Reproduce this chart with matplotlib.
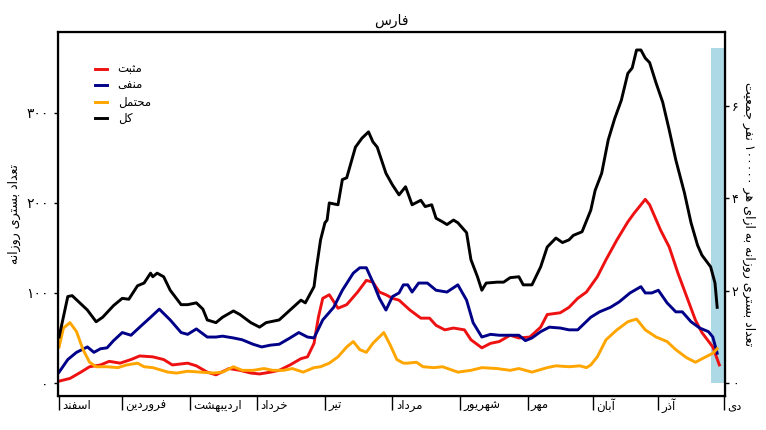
import re
import numpy as np
import matplotlib
matplotlib.use("Agg")
import matplotlib.pyplot as plt

# ---- data ----
# day index counted from 1 Esfand
total_days = [0, 4, 6, 13, 17, 20, 25, 29, 32, 36, 39, 42, 43, 45, 48, 51, 56, 59, 63, 66, 68, 72, 75, 80, 83,
              88, 92, 95, 101, 106, 111, 113, 117, 118, 120, 122, 123, 124, 128, 130, 132, 136, 139, 142, 144,
              146, 150, 153, 156, 159, 162, 166, 168, 171, 173, 176, 178, 181, 183, 187, 189, 192, 194, 196,
              201, 204, 207, 211, 213, 217, 221, 224, 228, 231, 234, 236, 240, 244, 246, 249, 252, 255, 258,
              261, 263, 265, 267, 269, 271, 274, 277, 280, 283, 287, 290, 293, 295, 299, 301, 302]
total_vals = [51, 96, 97, 81, 68, 73, 86, 94, 93, 108, 111, 122, 118, 122, 118, 103, 87, 87, 89, 82, 70, 67, 73,
              80, 76, 67, 62, 67, 70, 81, 92, 89, 107, 126, 159, 178, 181, 200, 198, 226, 228, 262, 272, 279,
              268, 262, 233, 220, 209, 218, 198, 203, 196, 198, 183, 179, 176, 181, 178, 167, 137, 118, 103,
              111, 112, 112, 117, 118, 109, 109, 129, 151, 161, 156, 159, 164, 168, 192, 214, 233, 270, 294,
              314, 344, 350, 370, 370, 361, 356, 333, 312, 281, 248, 211, 178, 153, 142, 129, 111, 84]

pos_days = [0, 5, 10, 14, 19, 23, 28, 33, 37, 43, 48, 52, 59, 63, 68, 72, 78, 83, 88, 92, 97, 101, 106, 111,
            114, 117, 119, 121, 124, 128, 132, 137, 141, 144, 147, 150, 153, 156, 161, 166, 170, 173, 177, 181,
            186, 189, 194, 198, 202, 207, 211, 216, 221, 224, 230, 234, 238, 242, 247, 251, 256, 261, 264, 269,
            271, 276, 280, 284, 288, 292, 295, 300, 303]
pos_vals = [2, 5, 12, 18, 20, 24, 22, 26, 30, 29, 26, 20, 22, 19, 12, 9, 16, 14, 11, 10, 12, 14, 20, 27,
            29, 44, 73, 94, 98, 83, 87, 101, 114, 112, 101, 98, 94, 92, 81, 72, 72, 64, 59, 61,
            59, 48, 39, 44, 46, 53, 50, 51, 62, 76, 78, 84, 94, 101, 118, 137, 159, 179, 189, 204,
            198, 170, 151, 122, 96, 70, 56, 40, 20]

neg_days = [0, 4, 8, 13, 16, 19, 22, 25, 29, 33, 37, 42, 46, 51, 56, 59, 63, 68, 72, 75, 80, 84, 89, 93, 97,
            101, 106, 110, 114, 117, 121, 126, 130, 135, 138, 141, 144, 147, 150, 153, 156, 158, 160, 162,
            165, 169, 173, 178, 183, 187, 190, 194, 198, 202, 207, 211, 214, 217, 221, 225, 230, 234, 238,
            244, 248, 253, 257, 262, 267, 269, 272, 275, 279, 283, 286, 290, 294, 298, 300, 302]
neg_vals = [12, 26, 34, 40, 34, 38, 39, 47, 56, 53, 62, 73, 82, 70, 56, 54, 60, 51, 51, 52, 50, 48, 43, 40, 42,
            43, 50, 56, 51, 50, 70, 84, 103, 122, 128, 128, 112, 94, 81, 96, 100, 109, 109, 101,
            111, 111, 103, 101, 109, 92, 67, 51, 54, 53, 53, 53, 47, 50, 57, 62, 61, 59, 59,
            73, 79, 84, 90, 100, 107, 100, 100, 103, 89, 79, 79, 68, 61, 57, 51, 33]

prob_days = [0, 2, 5, 8, 11, 14, 17, 22, 27, 31, 36, 39, 43, 50, 54, 59, 65, 71, 75, 80, 84, 89, 94, 98, 103,
             107, 112, 117, 120, 124, 128, 132, 135, 138, 141, 144, 149, 152, 155, 158, 160, 164, 167, 172,
             176, 183, 189, 194, 201, 207, 211, 217, 224, 228, 234, 239, 242, 244, 247, 251, 256, 261, 265,
             269, 274, 279, 283, 288, 292, 296, 300, 302]
prob_vals = [40, 61, 67, 57, 37, 23, 18, 18, 17, 20, 22, 18, 17, 12, 11, 13, 12, 11, 12, 18, 14, 14, 16, 14, 14,
             16, 12, 17, 18, 22, 29, 40, 46, 37, 34, 44, 56, 42, 26, 22, 22, 23, 18, 17,
             18, 12, 14, 17, 16, 14, 16, 12, 17, 19, 18, 19, 17, 20, 29, 48, 59, 68, 71,
             59, 51, 46, 37, 28, 23, 28, 33, 38]

month_days = [0, 29, 60, 91, 122, 153, 184, 215, 245, 275, 305]
month_names = ["اسفند", "فروردین", "اردیبهشت", "خرداد", "تیر", "مرداد", "شهریور", "مهر", "آبان", "آذر", "دی"]
series_names = ["مثبت", "منفی", "محتمل", "کل"]
left_ticks = [0, 100, 200, 300]
right_ticks = [0, 2, 4, 6]
population = 5130000
highlight_start = 299

# ---- simple arabic/persian shaping (matplotlib has no shaping) ----
FORMS = {
    'ا': ('\uFE8D', '\uFE8E'), 'آ': ('\uFE81', '\uFE82'),
    'د': ('\uFEA9', '\uFEAA'), 'ذ': ('\uFEAB', '\uFEAC'),
    'ر': ('\uFEAD', '\uFEAE'), 'ز': ('\uFEAF', '\uFEB0'),
    'و': ('\uFEED', '\uFEEE'),
    'ب': ('\uFE8F', '\uFE90', '\uFE91', '\uFE92'), 'ت': ('\uFE95', '\uFE96', '\uFE97', '\uFE98'),
    'ث': ('\uFE99', '\uFE9A', '\uFE9B', '\uFE9C'), 'ج': ('\uFE9D', '\uFE9E', '\uFE9F', '\uFEA0'),
    'ح': ('\uFEA1', '\uFEA2', '\uFEA3', '\uFEA4'), 'خ': ('\uFEA5', '\uFEA6', '\uFEA7', '\uFEA8'),
    'س': ('\uFEB1', '\uFEB2', '\uFEB3', '\uFEB4'), 'ش': ('\uFEB5', '\uFEB6', '\uFEB7', '\uFEB8'),
    'ع': ('\uFEC9', '\uFECA', '\uFECB', '\uFECC'), 'ف': ('\uFED1', '\uFED2', '\uFED3', '\uFED4'),
    'ل': ('\uFEDD', '\uFEDE', '\uFEDF', '\uFEE0'), 'م': ('\uFEE1', '\uFEE2', '\uFEE3', '\uFEE4'),
    'ن': ('\uFEE5', '\uFEE6', '\uFEE7', '\uFEE8'), 'ه': ('\uFEE9', '\uFEEA', '\uFEEB', '\uFEEC'),
    'ی': ('\uFBFC', '\uFBFD', '\uFBFE', '\uFBFF'), 'ک': ('\uFB8E', '\uFB8F', '\uFB90', '\uFB91'),
}
FA_DIGITS = str.maketrans("0123456789", "۰۱۲۳۴۵۶۷۸۹")


def shape(text):
    """join letters and put them in visual (left to right) order"""
    out = []
    for i, c in enumerate(text):
        if c not in FORMS:
            out.append(c)
            continue
        f = FORMS[c]
        prev = text[i - 1] if i > 0 else None
        nxt = text[i + 1] if i + 1 < len(text) else None
        join_prev = prev in FORMS and len(FORMS[prev]) == 4
        join_next = len(f) == 4 and nxt in FORMS
        if join_prev and join_next:
            out.append(f[3])
        elif join_prev:
            out.append(f[1])
        elif join_next:
            out.append(f[2])
        else:
            out.append(f[0])
    runs = re.findall(r'[۰-۹0-9]+|[^۰-۹0-9]', ''.join(out))
    return ''.join(reversed(runs))


def fa(n):
    return str(n).translate(FA_DIGITS)


plt.rcParams['font.family'] = ['DejaVu Sans']

fig = plt.figure(figsize=(7.66, 4.30), dpi=100)
ax = fig.add_axes([0.0757, 0.0791, 0.8708, 0.8465])

ymin, ymax = -14.5, 390
ax.fill_between([highlight_start, 306], 0, 372, color='lightblue', lw=0, zorder=0)

lw = 2.1
ax.plot(pos_days, pos_vals, color='#ee1111', lw=lw, label=shape(series_names[0]))
ax.plot(neg_days, neg_vals, color='#000088', lw=lw, label=shape(series_names[1]))
ax.plot(prob_days, prob_vals, color='orange', lw=lw, label=shape(series_names[2]))
ax.plot(total_days, total_vals, color='black', lw=lw, label=shape(series_names[3]))

ax.set_xlim(-0.5, 305.6)
ax.set_ylim(ymin, ymax)

for s in ax.spines.values():
    s.set_linewidth(1.6)

ax.set_xticks(month_days)
ax.set_xticklabels([])
ax.tick_params(axis='x', length=10, width=1, direction='out')
for d, name in zip(month_days, month_names):
    ax.text(d + 1.5, -0.027, shape(name), transform=ax.get_xaxis_transform(),
            ha='left', va='center', fontsize=8.5)

ax.set_yticks(left_ticks)
ax.set_yticklabels([fa(v) for v in left_ticks], fontsize=10)
ax.tick_params(axis='y', length=3, width=1)
ax.set_ylabel(shape("تعداد بستری روزانه"), fontsize=9, labelpad=4)

ax2 = ax.twinx()
f = 100000 / population
ax2.set_ylim(ymin * f, ymax * f)
ax2.set_yticks(right_ticks)
ax2.set_yticklabels([fa(v) for v in right_ticks], fontsize=9)
ax2.tick_params(axis='y', length=3, width=1, pad=2)
ax2.set_ylabel(shape("تعداد بستری روزانه به ازای هر 100000 نفر جمعیت").translate(FA_DIGITS),
               fontsize=9, rotation=270, labelpad=12)

ax.set_title(shape("فارس"), fontsize=10, pad=5)

ax.legend(loc='upper left', bbox_to_anchor=(0.04, 0.945), frameon=False, fontsize=8.5,
          handlelength=1.0, handletextpad=0.9, labelspacing=0.3)

fig.savefig("out.png", dpi=100)
